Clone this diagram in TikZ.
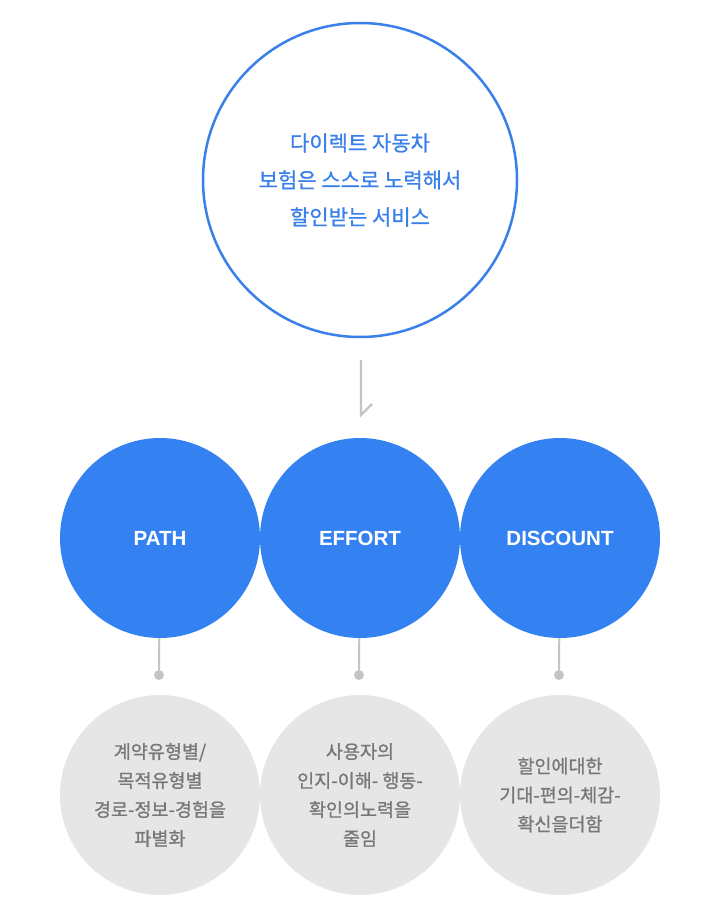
\documentclass[tikz,border=0pt]{standalone}
\usepackage{fontspec}
\newfontfamily\kr{Noto Sans CJK KR}[FakeBold=0.9]
\newfontfamily\en{Liberation Sans}
\definecolor{mainblue}{HTML}{3A80EA}
\definecolor{fillblue}{HTML}{3482F1}
\definecolor{lightgray}{HTML}{E6E6E6}
\definecolor{textgray}{HTML}{777777}
\definecolor{linegray}{HTML}{C4C4C4}
\tikzset{
  topcircle/.style={circle, draw=mainblue, line width=2.5pt, minimum size=314pt, inner sep=0pt, fill=white},
  bluecircle/.style={circle, fill=fillblue, minimum size=200pt, inner sep=0pt, text=white, font=\en\bfseries\fontsize{20.5}{22}\selectfont},
  graycircle/.style={circle, fill=lightgray, minimum size=200pt, inner sep=0pt, text=textgray, align=center, font=\kr\fontsize{18.5}{29}\selectfont},
  conn/.style={draw=linegray, line width=2pt},
  dotstyle/.style={circle, fill=linegray, minimum size=10pt, inner sep=0pt},
}
\begin{document}
\begin{tikzpicture}[x=1pt,y=-1pt]
\useasboundingbox (0,0) rectangle (720,915);
\node[topcircle] (top) at (360,180) {};
\node[text=mainblue, align=center, font=\kr\fontsize{21}{37}\selectfont] (toptext) at (360,180) {다이렉트 자동차\\보험은 스스로 노력해서\\할인받는 서비스};
\coordinate (a1) at (361,360);
\coordinate (a2) at (361,415);
\coordinate (a3) at (372,404);
\draw[conn, line width=2.2pt] (a1) -- (a2) -- (a3);
\foreach \x/\n/\lab in {160/p/PATH, 360/e/EFFORT, 560/d/DISCOUNT}{
  \node[bluecircle] (\n) at (\x,538) {\lab};
  \node[dotstyle] (\n dot) at (\x-1,675) {};
  \draw[conn] (\n) -- (\n dot);
}
\node[graycircle] (pg) at (160,795) {계약유형별/\\목적유형별\\경로-정보-경험을\\파별화};
\node[graycircle] (eg) at (360,795) {사용자의\\인지-이해- 행동-\\확인의노력을\\줄임};
\node[graycircle] (dg) at (560,795) {할인에대한\\기대-편의-체감-\\확신을더함};
\end{tikzpicture}
\end{document}
